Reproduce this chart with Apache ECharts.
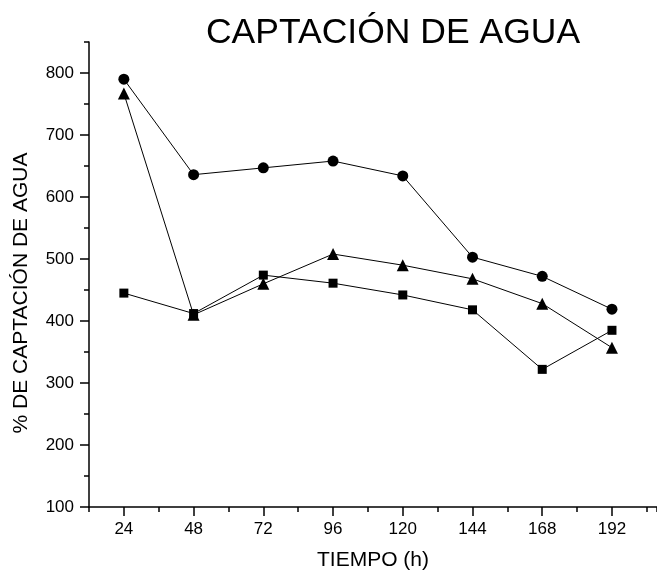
<!DOCTYPE html>
<html>
<head>
<meta charset="utf-8">
<script src="https://cdn.jsdelivr.net/npm/echarts@6/dist/echarts.min.js"></script>
<style>html,body{margin:0;padding:0;background:#fff;}#c{width:657px;height:576px;}</style>
</head>
<body>
<div id="c"></div>
<script>
var hours = [24, 48, 72, 96, 120, 144, 168, 192];
var circleSeries = [790, 636, 647, 658, 634, 503, 472, 419];
var squareSeries = [445, 412, 474, 461, 442, 418, 322, 385];
var triangleSeries = [767, 410, 460, 508, 490, 468, 428, 357];
var xTickLabels = [24, 48, 72, 96, 120, 144, 168, 192];
var yTickLabels = [100, 200, 300, 400, 500, 600, 700, 800];

var FONT = '"Liberation Sans", Arial, sans-serif';
function pairs(vals) { return hours.map(function (h, i) { return [h, vals[i]]; }); }
function mkSeries(vals, symbol, size) {
  return {
    type: 'line', data: pairs(vals), xAxisIndex: 0, yAxisIndex: 0,
    symbol: symbol, symbolSize: size,
    lineStyle: { color: '#000', width: 1 },
    itemStyle: { color: '#000' },
    emphasis: { disabled: true }
  };
}
var chart = echarts.init(document.getElementById('c'), null, { renderer: 'canvas' });
chart.setOption({
  animation: false,
  backgroundColor: '#fff',
  grid: { left: 89, top: 42, right: 0, bottom: 65.3, containLabel: false },
  xAxis: [
    { type: 'value', min: 12, max: 207.5, interval: 12, position: 'bottom',
      axisLine: { show: true, lineStyle: { color: '#000', width: 1.5 } },
      axisTick: { show: true, length: 5, lineStyle: { color: '#000', width: 1.5 } },
      axisLabel: { show: false }, splitLine: { show: false } },
    { type: 'value', min: 12, max: 207.5, position: 'bottom', offset: 0,
      axisLine: { show: false },
      axisTick: { show: true, length: 9, customValues: xTickLabels, lineStyle: { color: '#000', width: 1.5 } },
      axisLabel: { show: true, customValues: xTickLabels, color: '#000', fontFamily: FONT, fontSize: 17, margin: 14 },
      splitLine: { show: false },
      name: 'TIEMPO (h)', nameLocation: 'middle', nameGap: 43,
      nameTextStyle: { color: '#000', fontFamily: FONT, fontSize: 21 } }
  ],
  yAxis: [
    { type: 'value', min: 100, max: 850, interval: 50, position: 'left',
      axisLine: { show: true, lineStyle: { color: '#000', width: 1.5 } },
      axisTick: { show: true, length: 5, lineStyle: { color: '#000', width: 1.5 } },
      axisLabel: { show: false }, splitLine: { show: false } },
    { type: 'value', min: 100, max: 850, position: 'left', offset: 0,
      axisLine: { show: false },
      axisTick: { show: true, length: 9, customValues: yTickLabels, lineStyle: { color: '#000', width: 1.5 } },
      axisLabel: { show: true, customValues: yTickLabels, color: '#000', fontFamily: FONT, fontSize: 17, margin: 15 },
      splitLine: { show: false } }
  ],
  graphic: [
    { type: 'text', x: 393, y: 33, style: { text: 'CAPTACIÓN DE AGUA', fill: '#000', font: '35.5px ' + FONT, textAlign: 'center', textVerticalAlign: 'middle' } },
    { type: 'text', x: 21, y: 293, rotation: Math.PI / 2, style: { text: '% DE CAPTACIÓN DE AGUA', fill: '#000', font: '21px ' + FONT, textAlign: 'center', textVerticalAlign: 'middle' } }
  ],
  series: [
    mkSeries(squareSeries, 'rect', 9),
    mkSeries(circleSeries, 'circle', 11),
    mkSeries(triangleSeries, 'triangle', 12)
  ]
});
</script>
</body>
</html>
